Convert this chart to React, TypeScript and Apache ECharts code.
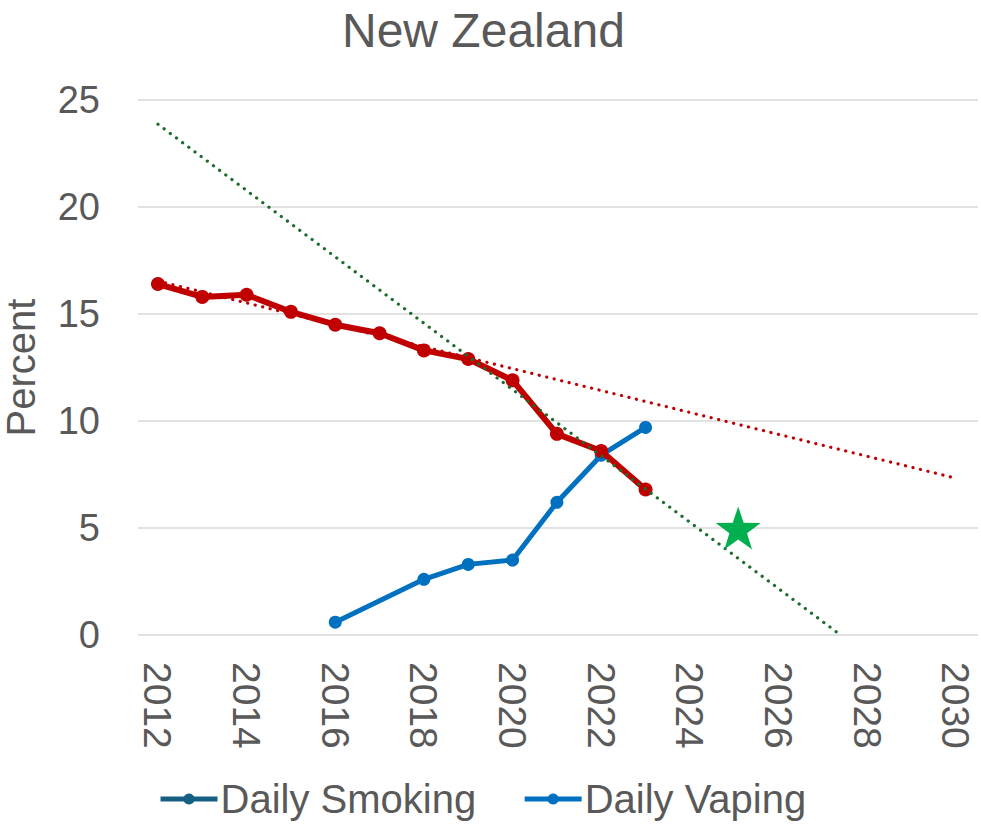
import React, { useEffect, useRef } from "react";
import * as echarts from "echarts";

const years = [2012, 2013, 2014, 2015, 2016, 2017, 2018, 2019, 2020, 2021, 2022, 2023];
const smoking = [16.4, 15.8, 15.9, 15.1, 14.5, 14.1, 13.3, 12.9, 11.9, 9.4, 8.6, 6.8];
const vapingYears = [2016, 2018, 2019, 2020, 2021, 2022, 2023];
const vaping = [0.6, 2.6, 3.3, 3.5, 6.2, 8.4, 9.7];
const xTicks = [2012, 2014, 2016, 2018, 2020, 2022, 2024, 2026, 2028, 2030];
const yTicks = [0, 5, 10, 15, 20, 25];
// trend fits: years used for fit, and span drawn
const earlyFitRange = [2012, 2019];
const earlySpan = [2012, 2030];
const lateFitRange = [2019, 2023];
const lateSpanStart = 2012;
const target = [2025, 5];

function fit(range: number[]) {
  const xs: number[] = [];
  const ys: number[] = [];
  years.forEach((y, i) => {
    if (y >= range[0] && y <= range[1]) {
      xs.push(y);
      ys.push(smoking[i]);
    }
  });
  const n = xs.length;
  const mx = xs.reduce((a, b) => a + b, 0) / n;
  const my = ys.reduce((a, b) => a + b, 0) / n;
  let sxy = 0;
  let sxx = 0;
  for (let i = 0; i < n; i++) {
    sxy += (xs[i] - mx) * (ys[i] - my);
    sxx += (xs[i] - mx) * (xs[i] - mx);
  }
  const slope = sxy / sxx;
  return { slope, at: (x: number) => my + slope * (x - mx), mx, my };
}

const GREY = "#595959";
const FONT = "Liberation Sans, Arial, sans-serif";

export default function App() {
  const ref = useRef<HTMLDivElement>(null);
  useEffect(() => {
    if (!ref.current) return;
    const chart = echarts.init(ref.current, undefined, { renderer: "svg" });
    const early = fit(earlyFitRange);
    const late = fit(lateFitRange);
    const lateZero = late.mx - late.my / late.slope;
    const earlyLine = earlySpan.map((x) => [x, early.at(x)]);
    const lateLine = [
      [lateSpanStart, late.at(lateSpanStart)],
      [lateZero, 0],
    ];
    chart.setOption({
      animation: false,
      textStyle: { fontFamily: FONT },
      title: {
        text: "New Zealand",
        left: 337,
        top: 1,
        textStyle: { fontSize: 48, color: GREY, fontWeight: "normal", fontFamily: FONT },
      },
      grid: {
        left: 138,
        right: 3,
        top: 100,
        bottom: 190,
        containLabel: false,
        outerBoundsMode: "none",
      },
      legend: {
        top: 779,
        left: 158,
        padding: 0,
        itemWidth: 57,
        itemHeight: 14,
        itemGap: 46,
        textStyle: { fontSize: 40, color: GREY, fontFamily: FONT, padding: [0, 0, 0, -2] },
        data: [
          {
            name: "Daily Smoking",
            itemStyle: { color: "#156082" },
            lineStyle: { color: "#156082", width: 5 },
          },
          {
            name: "Daily Vaping",
            itemStyle: { color: "#0070C0" },
            lineStyle: { color: "#0070C0", width: 5 },
          },
        ],
      },
      xAxis: {
        type: "value",
        min: 2011.55,
        max: 2030.5,
        axisLine: { show: false },
        axisTick: { show: false },
        splitLine: { show: false },
        axisLabel: {
          customValues: xTicks,
          rotate: -90,
          margin: 27,
          fontSize: 39,
          color: GREY,
          fontFamily: FONT,
          formatter: (v: number) => String(v),
        },
      },
      yAxis: {
        type: "value",
        min: 0,
        max: 25,
        interval: 5,
        name: "Percent",
        nameLocation: "middle",
        nameRotate: 90,
        nameGap: 97,
        nameTextStyle: { fontSize: 40, color: GREY, fontFamily: FONT },
        axisLine: { show: false },
        axisTick: { show: false },
        axisLabel: {
          margin: 38,
          fontSize: 38,
          color: GREY,
          fontFamily: FONT,
          customValues: yTicks,
        },
        splitLine: { lineStyle: { color: "#d9d9d9", width: 1.5 } },
      },
      series: [
        {
          name: "Daily Vaping",
          type: "line",
          data: vapingYears.map((y, i) => [y, vaping[i]]),
          symbol: "circle",
          symbolSize: 13,
          color: "#0070C0",
          lineStyle: { width: 5, color: "#0070C0" },
          itemStyle: { color: "#0070C0" },
          z: 2,
        },
        {
          name: "Daily Smoking",
          type: "line",
          data: years.map((y, i) => [y, smoking[i]]),
          symbol: "circle",
          symbolSize: 14,
          color: "#C00000",
          lineStyle: { width: 6, color: "#C00000" },
          itemStyle: { color: "#C00000" },
          z: 3,
        },
        {
          name: "Trend 2012-2019",
          type: "line",
          data: earlyLine,
          symbol: "none",
          lineStyle: { width: 3.2, color: "#C00000", type: [0.1, 7.6], cap: "round" },
          z: 4,
          silent: true,
        },
        {
          name: "Trend 2019-2023",
          type: "line",
          data: lateLine,
          symbol: "none",
          lineStyle: { width: 3.2, color: "#1E6B2E", type: [0.1, 7.6], cap: "round" },
          z: 5,
          silent: true,
        },
        {
          name: "Target",
          type: "scatter",
          data: [target],
          symbol: "path://M50,0 L61.8,35.1 L98.9,35.5 L69.1,57.6 L80.2,93 L50,71.5 L19.8,93 L30.9,57.6 L1.1,35.5 L38.2,35.1 Z",
          symbolSize: [45, 43],
          symbolOffset: [4, 0],
          itemStyle: { color: "#00B050", opacity: 1 },
          z: 6,
        },
      ],
    });
    return () => chart.dispose();
  }, []);
  return (
    <div
      ref={ref}
      style={{ position: "fixed", left: 0, top: 0, width: 981, height: 825, background: "#fff" }}
    />
  );
}
